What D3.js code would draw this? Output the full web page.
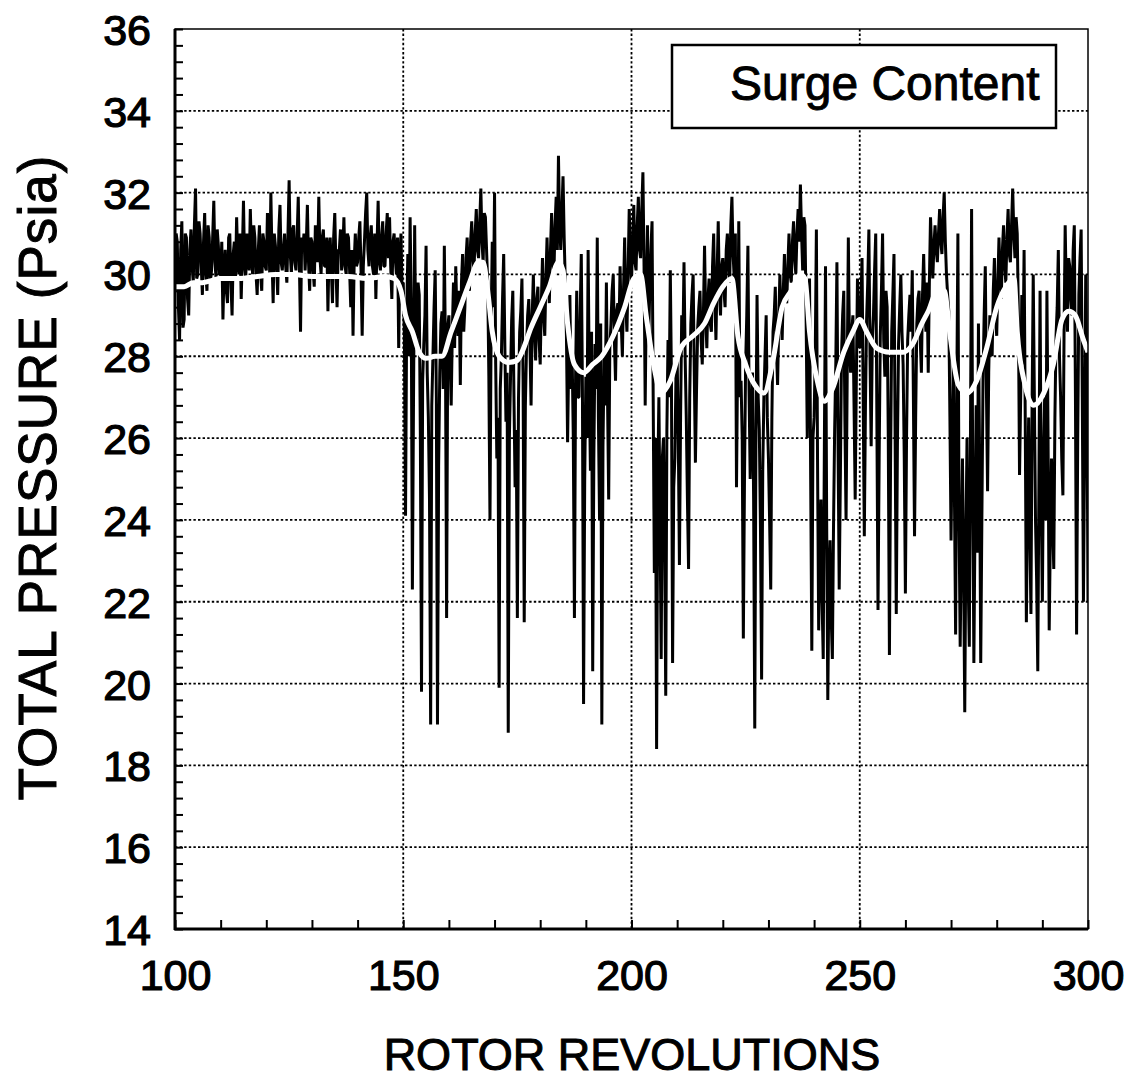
<!DOCTYPE html>
<html><head><meta charset="utf-8">
<script src="https://cdn.jsdelivr.net/npm/d3@7"></script>
<style>
html,body{margin:0;padding:0;background:#fff;}
svg{display:block;}
text{font-family:"Liberation Sans",Arial,Helvetica,sans-serif;fill:#000;}
</style></head>
<body>
<script>
// ---- data ----
const revStart = 100;
const revStep = 0.5;
// samples at 100, 100.5, 101, ... 300
const pressure = [
 29.6,30.8,28.4,31.3,28.9,30.9,29.0,31.1,29.8,32.1,30.0,31.0,29.5,31.5,29.6,30.9,30.1,31.8,29.9,30.7,
 30.0,28.9,30.6,29.3,31.0,29.0,30.8,31.4,30.0,29.4,31.8,29.9,30.4,31.6,30.0,30.9,29.5,31.2,29.6,30.8,
 30.1,31.2,32.0,29.3,30.7,29.5,31.7,30.1,31.0,29.8,32.3,30.0,31.2,30.1,31.9,28.6,30.6,30.1,31.7,29.6,
 30.8,29.7,31.0,31.9,30.0,31.1,30.2,29.1,30.9,29.3,31.5,29.2,30.6,30.1,31.4,30.0,30.9,29.2,28.5,31.0,
 30.3,31.3,28.5,30.8,32.0,30.2,31.2,30.0,29.4,31.8,30.1,31.3,30.2,31.5,31.4,29.4,31.0,30.0,28.2,31.0,
 29.8,24.1,30.5,31.4,22.3,31.2,28.6,29.5,19.8,28.3,30.7,26.5,19.0,28.0,30.1,19.0,27.6,29.1,30.7,21.6,
 29.0,26.8,29.8,30.2,28.5,27.3,30.5,29.2,30.9,29.6,31.3,30.1,31.6,30.4,32.1,30.3,31.4,29.8,24.0,30.8,
 32.0,25.5,19.9,28.0,30.5,26.4,18.8,27.5,29.6,24.8,21.6,28.6,29.9,21.5,28.2,29.4,26.8,30.0,27.9,29.7,
 27.8,30.4,28.5,30.9,29.3,31.5,30.0,31.9,32.9,30.6,32.4,29.8,25.9,29.5,28.0,21.6,29.6,27.0,30.5,19.5,
 27.5,30.6,25.2,20.3,28.3,30.9,24.0,19.0,28.0,29.8,24.5,28.8,30.0,27.4,29.3,30.2,28.0,30.9,28.6,31.6,
 29.8,31.7,30.1,31.9,30.4,32.5,26.8,31.2,29.6,31.3,22.7,18.4,27.0,20.6,26.0,19.7,28.4,30.1,20.5,25.5,
 28.0,22.9,29.0,30.3,26.5,22.8,28.8,30.0,25.4,28.7,29.6,27.8,30.7,28.2,29.9,28.6,31.0,28.4,31.3,29.0,
 30.4,29.2,31.0,29.8,31.9,29.9,24.8,31.3,27.4,21.1,27.8,30.7,25.0,27.6,18.9,29.5,26.2,20.1,27.0,29.0,
 25.5,22.3,28.6,29.7,27.3,30.0,28.4,30.5,29.3,31.0,29.8,31.3,30.0,31.6,32.2,30.1,31.2,26.0,29.9,20.8,
 26.5,31.1,21.3,24.5,20.6,30.2,19.6,23.5,20.6,26.2,30.3,22.3,28.0,29.6,24.0,30.9,27.6,29.0,24.5,29.9,
 28.2,30.4,23.6,28.9,31.1,25.8,29.0,31.0,21.8,28.5,31.0,27.5,29.2,20.7,28.6,30.5,21.7,28.3,30.0,27.8,
 22.2,28.4,29.5,30.1,23.6,28.8,29.6,27.6,30.5,28.6,27.6,31.4,29.9,31.2,30.3,31.6,30.5,32.0,30.0,29.1,
 23.5,28.0,21.2,31.0,20.9,25.5,19.3,26.0,20.9,31.6,20.5,26.8,28.8,20.5,27.4,30.2,24.7,29.0,28.0,30.4,
 28.5,30.9,29.4,31.2,29.8,31.6,30.3,32.1,30.4,31.0,25.1,29.5,30.6,21.5,26.5,21.7,30.0,24.0,20.3,29.6,
 22.0,27.0,29.6,21.3,25.5,22.8,28.5,30.6,27.0,24.6,31.2,28.6,30.2,29.0,31.2,21.2,29.5,31.1,22.0,30.0,
 22.0
];
// samples in between, at 100.25, 100.75, ... 299.75
const pressureMid = [
 31.0,29.2,30.6,28.7,31.0,29.4,30.6,30.2,31.2,29.9,31.3,30.2,30.8,30.0,31.2,29.8,30.9,30.3,31.1,30.0,
 30.8,30.1,29.6,30.9,29.8,30.5,29.9,30.3,31.0,30.5,30.2,31.0,30.1,30.5,31.2,30.0,30.6,30.0,31.0,30.2,
 31.5,30.0,30.4,31.0,30.2,31.1,30.3,30.6,30.2,31.0,30.5,31.1,30.3,30.9,30.2,30.9,31.0,30.7,30.3,30.9,
 30.1,31.2,30.3,30.4,30.9,30.2,30.9,30.6,30.1,30.9,30.2,30.6,31.1,30.5,30.2,31.0,30.1,30.6,30.3,30.2,
 30.9,30.1,30.2,31.5,30.6,30.9,30.2,31.0,30.7,30.3,30.9,30.2,31.0,30.4,30.2,30.8,30.4,30.9,30.3,29.6,
 28.5,29.0,28.0,29.3,27.0,28.2,29.8,26.0,27.4,29.0,27.6,24.5,26.8,29.2,27.0,25.3,28.8,27.2,28.0,28.7,
 28.0,28.6,28.2,29.0,29.6,29.8,28.6,30.4,29.9,30.8,30.4,31.0,30.6,31.3,30.8,31.5,30.6,27.5,28.8,29.2,
 27.8,26.5,27.2,29.4,28.3,27.6,26.0,28.9,27.0,26.2,27.0,29.1,27.4,26.8,29.0,28.3,29.0,28.6,29.4,28.4,
 29.3,29.0,29.9,29.8,30.6,30.3,31.2,30.6,31.2,31.5,30.9,28.5,28.0,27.2,26.0,27.5,27.0,29.0,27.2,25.0,
 26.0,27.4,28.6,25.5,27.2,26.5,28.8,25.8,26.8,27.0,28.2,29.6,28.4,29.1,28.6,28.8,29.6,29.2,30.0,30.4,
 30.8,30.3,31.2,30.6,31.6,30.2,29.5,28.4,30.6,27.0,26.0,25.0,24.0,25.5,23.5,26.2,27.0,27.4,24.8,27.6,
 26.0,26.5,28.2,28.0,24.5,27.0,29.5,27.6,27.2,29.2,28.4,29.0,29.0,29.4,28.8,30.2,29.4,30.0,29.6,30.2,
 29.6,30.6,30.2,31.2,30.5,31.0,28.0,27.0,26.0,25.0,29.0,27.2,26.4,24.5,25.8,27.0,23.8,25.2,28.0,26.5,
 24.0,26.5,29.0,28.2,28.8,29.0,29.6,29.4,30.2,30.0,30.8,30.4,31.0,30.8,31.0,31.4,29.0,28.5,25.0,26.0,
 28.0,25.5,23.5,22.0,25.8,24.0,22.5,21.6,23.8,27.8,25.8,25.0,29.0,26.4,27.5,28.2,28.6,26.8,27.4,28.8,
 29.3,27.0,26.8,29.8,28.0,28.4,30.1,26.5,25.5,29.6,28.4,29.6,26.0,25.4,29.5,26.0,25.8,29.2,28.6,25.5,
 26.0,29.0,28.6,27.0,26.5,29.4,28.4,29.5,29.2,29.8,29.8,30.6,30.7,30.6,31.0,30.8,31.4,30.8,29.5,26.5,
 26.0,24.5,27.0,24.0,23.5,22.8,23.5,22.5,26.0,25.0,24.0,23.2,25.5,24.0,29.0,27.2,27.6,28.5,29.6,29.0,
 29.8,29.9,30.6,30.2,30.9,30.5,31.2,31.0,31.4,29.0,27.0,27.8,26.5,24.5,23.8,26.8,27.0,22.5,25.0,24.5,
 25.5,24.0,26.0,23.6,24.0,26.5,29.2,28.0,25.5,28.5,29.5,30.4,29.4,30.6,27.0,26.0,30.4,27.0,25.8,27.5
];
const smoothRev = [100,102,104,106,108,110,114,118,122,126,130,134,138,142,146,148,149.5,150.5,152,153.5,155,157,158.5,160.5,162.5,164.5,166.5,167.5,168.5,169.5,171,173,175,176,178,180,182,184,185,186,187.5,189.5,191.5,193.5,196,198.5,200.5,202,203.2,205,206.5,208.5,210.8,213.5,216,218,220,222,223.3,225,227,229,231,233,235,237,238,239,240.7,242.2,244,246.5,248.5,250,251.5,253.7,256.5,259.5,261.6,263.6,265,267,268.5,269.8,271.6,273.5,275.6,277.8,280,282,283.8,284.5,286.2,288.1,290.3,292.4,294.3,295.8,297.2,299,300];
const smoothVal = [29.7,29.7,29.8,29.8,29.85,29.9,29.9,29.95,30.0,30.0,29.95,29.95,29.95,29.9,29.95,29.9,29.6,29.0,28.6,28.1,27.95,28.0,28.0,28.6,29.2,29.8,30.3,30.3,29.6,28.6,28.0,27.85,27.9,28.1,28.7,29.2,29.7,30.3,30.1,28.8,27.8,27.6,27.8,28.0,28.5,29.2,29.9,30.0,29.0,27.7,27.1,27.4,28.2,28.5,28.8,29.3,29.7,29.9,28.5,27.8,27.3,27.1,27.9,29.2,29.6,30.0,29.9,28.6,27.4,26.9,27.2,28.1,28.6,28.9,28.6,28.2,28.1,28.1,28.3,28.8,29.1,29.6,29.6,28.5,27.3,27.1,27.4,28.2,29.2,29.7,29.9,28.6,27.3,26.8,27.1,27.8,28.9,29.1,29.0,28.4,28.1];
const yTicks = [14,16,18,20,22,24,26,28,30,32,34,36];
const xTicks = [100,150,200,250,300];
const xMinorStep = 10;
const yMinorStep = 0.4;
const legendLabel = "Surge Content";
const xTitle = "ROTOR REVOLUTIONS";
const yTitle = "TOTAL PRESSURE (Psia)";

// ---- chart ----
const W = 1128, H = 1082;
const L = 175, R = 1088, T = 29, B = 929;
const svg = d3.select("body").append("svg").attr("width", W).attr("height", H);
const x = d3.scaleLinear().domain([100, 300]).range([L, R]);
const y = d3.scaleLinear().domain([14, 36]).range([B, T]);

svg.append("defs").append("clipPath").attr("id","clip")
  .append("rect").attr("x", L).attr("y", T).attr("width", R - L).attr("height", B - T);

// grid
const grid = svg.append("g");
grid.selectAll("line.gy").data(yTicks.filter(d => d > 14 && d < 36)).join("line")
  .attr("x1", L).attr("x2", R).attr("y1", d => y(d)).attr("y2", d => y(d))
  .attr("stroke", "#000").attr("stroke-width", 1.8).attr("stroke-dasharray", "2.4,2.2");
grid.selectAll("line.gx").data(xTicks.filter(d => d > 100 && d < 300)).join("line")
  .attr("y1", T).attr("y2", B).attr("x1", d => x(d)).attr("x2", d => x(d))
  .attr("stroke", "#000").attr("stroke-width", 1.8).attr("stroke-dasharray", "2.4,2.2");

// data: interleave main and mid samples
const pts = [];
pressure.forEach((v, i) => {
  pts.push([revStart + i * revStep, v]);
  if (i < pressureMid.length) pts.push([revStart + i * revStep + revStep / 2, pressureMid[i]]);
});
const sm = smoothRev.map((r, i) => [r, smoothVal[i]]);
const plot = svg.append("g").attr("clip-path", "url(#clip)");
plot.append("path").datum(pts)
  .attr("d", d3.line().x(d => x(d[0])).y(d => y(d[1])))
  .attr("fill", "none").attr("stroke", "#000").attr("stroke-width", 3).attr("stroke-linejoin", "bevel");
plot.append("path").datum(sm)
  .attr("d", d3.line().curve(d3.curveMonotoneX).x(d => x(d[0])).y(d => y(d[1])))
  .attr("fill", "none").attr("stroke", "#fff").attr("stroke-width", 5).attr("stroke-linejoin", "round");

// frame
svg.append("rect").attr("x", L).attr("y", T).attr("width", R - L).attr("height", B - T)
  .attr("fill", "none").attr("stroke", "#000").attr("stroke-width", 1.5);
svg.append("line").attr("x1", L).attr("x2", L).attr("y1", T).attr("y2", B + 1).attr("stroke", "#000").attr("stroke-width", 3);
svg.append("line").attr("x1", L - 1).attr("x2", R).attr("y1", B).attr("y2", B).attr("stroke", "#000").attr("stroke-width", 3);

// minor ticks
const yMinor = d3.range(0, 56).map(i => 14 + i * yMinorStep);
const xMinor = d3.range(0, 21).map(i => 100 + i * xMinorStep);
const ay = svg.append("g").attr("transform", `translate(${L},0)`)
  .call(d3.axisLeft(y).tickValues(yMinor).tickSize(-8).tickFormat(""));
const ax = svg.append("g").attr("transform", `translate(0,${B})`)
  .call(d3.axisBottom(x).tickValues(xMinor).tickSize(-9).tickFormat(""));
[ay, ax].forEach(g => { g.select(".domain").remove(); g.selectAll("line").attr("stroke", "#000").attr("stroke-width", 2); });

// tick labels
const ly = svg.append("g").attr("transform", `translate(${L},0)`)
  .call(d3.axisLeft(y).tickValues(yTicks).tickSize(0).tickPadding(24).tickFormat(d3.format("d")));
const lx = svg.append("g").attr("transform", `translate(0,${B})`)
  .call(d3.axisBottom(x).tickValues(xTicks).tickSize(0).tickPadding(30).tickFormat(d3.format("d")));
[ly, lx].forEach(g => {
  g.select(".domain").remove();
  g.selectAll("text").attr("font-size", 43).attr("fill", "#000")
    .attr("stroke", "#000").attr("stroke-width", 1.2)
    .style("font-family", '"Liberation Sans",Arial,sans-serif');
});
ly.selectAll("text").attr("dy", "0.36em");

// axis titles
svg.append("text").attr("x", 632).attr("y", 1070).attr("text-anchor", "middle")
  .attr("font-size", 45).attr("stroke", "#000").attr("stroke-width", 1.0).text(xTitle);
svg.append("text").attr("transform", "translate(56,478) rotate(-90)").attr("text-anchor", "middle")
  .attr("font-size", 53).attr("stroke", "#000").attr("stroke-width", 1.0).attr("textLength", 645).text(yTitle);

// legend
svg.append("rect").attr("x", 672).attr("y", 45).attr("width", 384).attr("height", 83)
  .attr("fill", "#fff").attr("stroke", "#000").attr("stroke-width", 2.5);
svg.append("text").attr("x", 730).attr("y", 100).attr("font-size", 48)
  .attr("stroke", "#000").attr("stroke-width", 0.9).text(legendLabel);
</script>
</body></html>
